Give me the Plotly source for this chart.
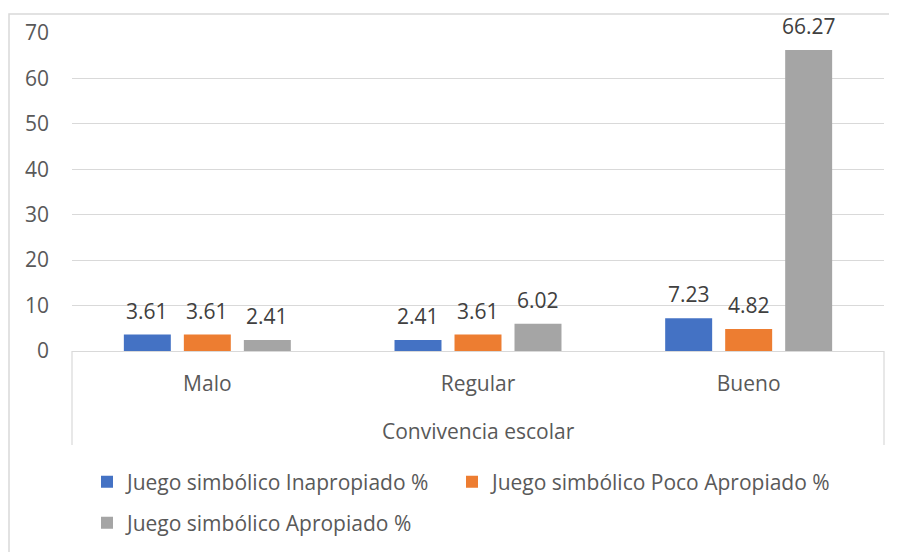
import plotly.graph_objects as go

categories = ["Malo", "Regular", "Bueno"]
inapropiado = [3.61, 2.41, 7.23]
poco_apropiado = [3.61, 3.61, 4.82]
apropiado = [2.41, 6.02, 66.27]
series_names = ["Juego simbólico Inapropiado %", "Juego simbólico Poco Apropiado %", "Juego simbólico Apropiado %"]
y_ticks = [0, 10, 20, 30, 40, 50, 60, 70]
x_title = "Convivencia escolar"

colors = ["#4472C4", "#ED7D31", "#A5A5A5"]
FONT = "Open Sans"
FS = 21
# the page body has an 8px margin, so the figure is drawn 8px right/down
OFF = 8
W, H = 897 - OFF, 552 - OFF
ML, MT = 72 - OFF, 33 - OFF
PW, PH = 812, 318
MR, MB = W - ML - PW, H - MT - PH

def px_x(p):
    return (p - 72) / PW

def px_y(p):
    return (351 - p) / PH

fig = go.Figure()
series = [inapropiado, poco_apropiado, apropiado]
legends = ["legend", "legend3", "legend2"]
for name, vals, col, lg in zip(series_names, series, colors, legends):
    fig.add_trace(go.Bar(x=categories, y=vals, name=name, marker=dict(color=col, line=dict(width=0)),
                         legend=lg, hoverinfo="x+y+name"))

annotations = []
for i, vals in enumerate(series):
    for c, v in zip(categories, vals):
        annotations.append(dict(x=c, y=v, xref="x", yref="y", text=f"{v:.2f}", showarrow=False,
                                xshift=(i - 1) * 60, yshift=24, yanchor="middle",
                                font=dict(family=FONT, size=FS, color="#404040")))
annotations.append(dict(x=0.5, y=px_y(431), xref="paper", yref="paper", text=x_title, showarrow=False,
                        yanchor="middle", font=dict(family=FONT, size=FS, color="#595959")))

line_col = "#D9D9D9"
shapes = [
    dict(type="rect", xref="paper", yref="paper", x0=px_x(9), x1=px_x(905), y0=px_y(14), y1=px_y(560),
         line=dict(color=line_col, width=1.5), layer="below"),
    dict(type="line", xref="paper", yref="paper", x0=0, x1=0, y0=0, y1=px_y(445),
         line=dict(color=line_col, width=1.2)),
    dict(type="line", xref="paper", yref="paper", x0=1, x1=1, y0=0, y1=px_y(445),
         line=dict(color=line_col, width=1.2)),
]

def leg(xp, yp):
    return dict(orientation="h", x=px_x(xp), y=px_y(yp), xanchor="left", yanchor="middle",
                itemwidth=30, font=dict(family=FONT, size=FS, color="#595959"),
                bgcolor="rgba(0,0,0,0)")

fig.update_layout(
    width=W, height=H,
    margin=dict(l=ML, r=MR, t=MT, b=MB, autoexpand=False),
    paper_bgcolor="white", plot_bgcolor="white",
    font=dict(family=FONT, size=FS, color="#595959"),
    barmode="group", bargap=0.335, bargroupgap=0.217,
    showlegend=True,
    legend=leg(87, 482),
    legend3=leg(452, 482),
    legend2=leg(87, 523),
    xaxis=dict(showgrid=False, showline=True, linecolor=line_col, linewidth=1.2,
               ticks="", ticklabelstandoff=14, tickfont=dict(family=FONT, size=FS, color="#595959"),
               fixedrange=True),
    yaxis=dict(range=[0, 70], tickvals=y_ticks, showgrid=True, gridcolor=line_col, gridwidth=1.2,
               zeroline=False, showline=False, ticks="", ticklabelstandoff=22,
               tickfont=dict(family=FONT, size=FS, color="#595959"), fixedrange=True),
    annotations=annotations,
    shapes=shapes,
)

fig.write_html("out.html")
